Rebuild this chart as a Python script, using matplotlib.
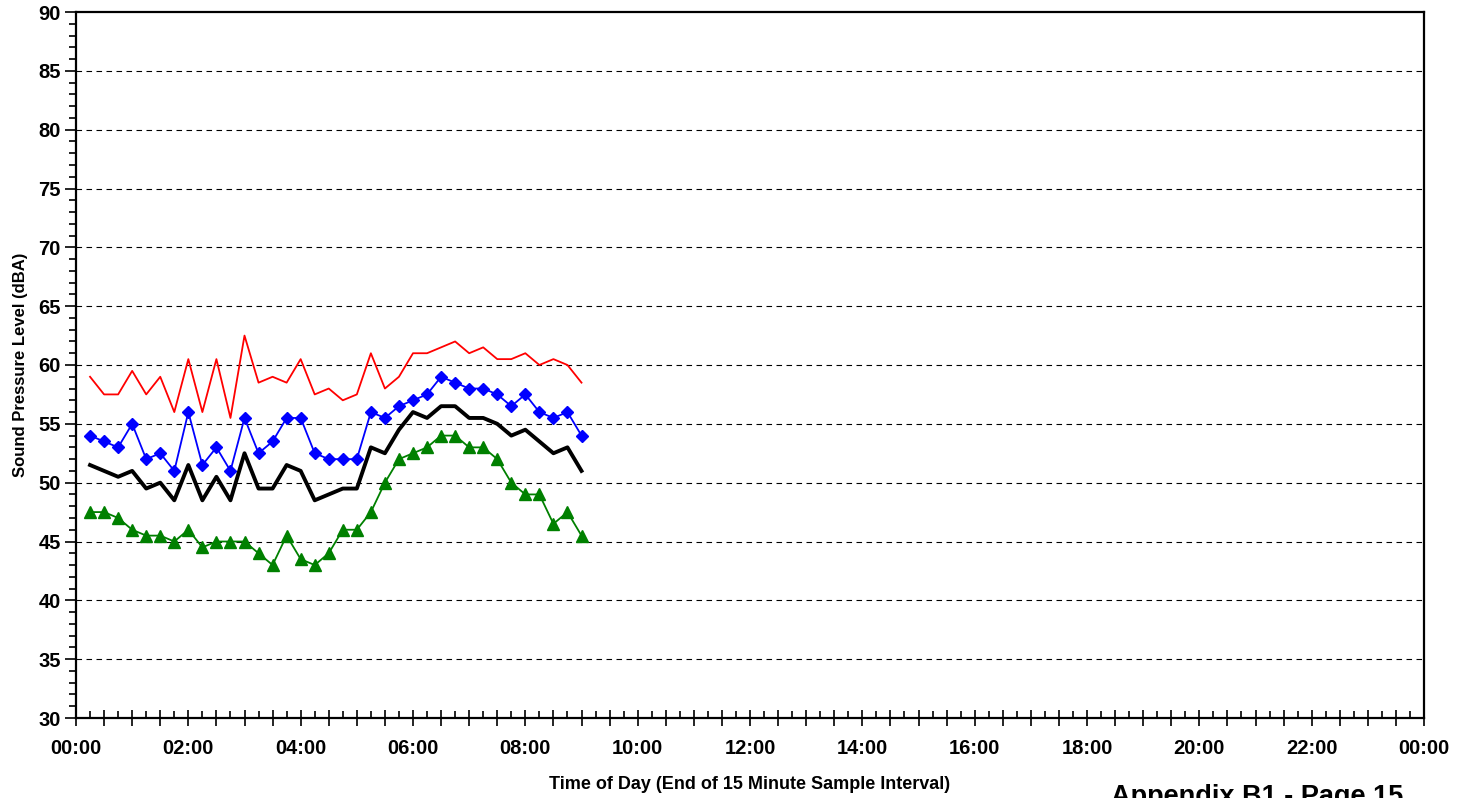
import matplotlib
matplotlib.use('Agg')
from matplotlib import pyplot as plt
from matplotlib.ticker import MultipleLocator, FuncFormatter

plt.rcParams['font.family'] = ['Liberation Sans', 'DejaVu Sans']
plt.rcParams['font.weight'] = 'bold'

# end of each 15 minute sample interval
times = ['00:15', '00:30', '00:45', '01:00', '01:15', '01:30', '01:45', '02:00',
         '02:15', '02:30', '02:45', '03:00', '03:15', '03:30', '03:45', '04:00',
         '04:15', '04:30', '04:45', '05:00', '05:15', '05:30', '05:45', '06:00',
         '06:15', '06:30', '06:45', '07:00', '07:15', '07:30', '07:45', '08:00',
         '08:15', '08:30', '08:45', '09:00']

# sound levels (dBA)
lmax = [59, 57.5, 57.5, 59.5, 57.5, 59, 56, 60.5, 56, 60.5, 55.5, 62.5,
        58.5, 59, 58.5, 60.5, 57.5, 58, 57, 57.5, 61, 58, 59, 61,
        61, 61.5, 62, 61, 61.5, 60.5, 60.5, 61, 60, 60.5, 60, 58.5]
l10 = [54, 53.5, 53, 55, 52, 52.5, 51, 56, 51.5, 53, 51, 55.5,
       52.5, 53.5, 55.5, 55.5, 52.5, 52, 52, 52, 56, 55.5, 56.5, 57,
       57.5, 59, 58.5, 58, 58, 57.5, 56.5, 57.5, 56, 55.5, 56, 54]
leq = [51.5, 51, 50.5, 51, 49.5, 50, 48.5, 51.5, 48.5, 50.5, 48.5, 52.5,
       49.5, 49.5, 51.5, 51, 48.5, 49, 49.5, 49.5, 53, 52.5, 54.5, 56,
       55.5, 56.5, 56.5, 55.5, 55.5, 55, 54, 54.5, 53.5, 52.5, 53, 51]
l90 = [47.5, 47.5, 47, 46, 45.5, 45.5, 45, 46, 44.5, 45, 45, 45,
       44, 43, 45.5, 43.5, 43, 44, 46, 46, 47.5, 50, 52, 52.5,
       53, 54, 54, 53, 53, 52, 50, 49, 49, 46.5, 47.5, 45.5]

hours = [int(t[:2]) + int(t[3:]) / 60 for t in times]

fig = plt.figure(figsize=(14.71, 7.98), dpi=100)
ax = fig.add_axes([76 / 1471, 80 / 798, 1348 / 1471, 706 / 798])

ax.plot(hours, lmax, color='#ff0000', lw=1.3, zorder=3)
ax.plot(hours, l10, color='#0000ff', lw=1.3, marker='D', ms=6, zorder=4)
ax.plot(hours, leq, color='black', lw=2.8, zorder=4)
ax.plot(hours, l90, color='#008000', lw=1.3, marker='^', ms=8, zorder=4)

ax.set_xlim(0, 24)
ax.set_ylim(30, 90)

# horizontal dashed grid
for v in range(35, 90, 5):
    ax.axhline(v, color='black', lw=0.8, linestyle=(0, (5, 4)), zorder=1)

ax.xaxis.set_major_locator(MultipleLocator(0.5))
ax.xaxis.set_minor_locator(MultipleLocator(0.25))
ax.xaxis.set_major_formatter(FuncFormatter(
    lambda x, p: '%02d:00' % (int(round(x)) % 24) if abs(x / 2 - round(x / 2)) < 1e-6 else ''))
ax.tick_params(axis='x', which='major', direction='inout', length=12, width=1.2,
               labelsize=14.5, pad=9)
ax.tick_params(axis='x', which='minor', direction='in', length=5, width=1.2)

ax.yaxis.set_major_locator(MultipleLocator(5))
ax.yaxis.set_minor_locator(MultipleLocator(1))
ax.tick_params(axis='y', which='major', direction='out', length=8, width=1.2,
               labelsize=14.5, pad=3)
ax.tick_params(axis='y', which='minor', direction='out', length=5, width=1.2)

for s in ax.spines.values():
    s.set_linewidth(1.6)

ax.set_xlabel('Time of Day (End of 15 Minute Sample Interval)', fontsize=13,
              fontweight='bold', labelpad=13)
ax.set_ylabel('Sound Pressure Level (dBA)', fontsize=12, fontweight='bold', labelpad=7)

fig.text(1257 / 1471, 1 - 784 / 798, 'Appendix B1 - Page 15', ha='center', va='top',
         fontsize=19.5, fontweight='bold')

plt.savefig('out.png', dpi=100)
